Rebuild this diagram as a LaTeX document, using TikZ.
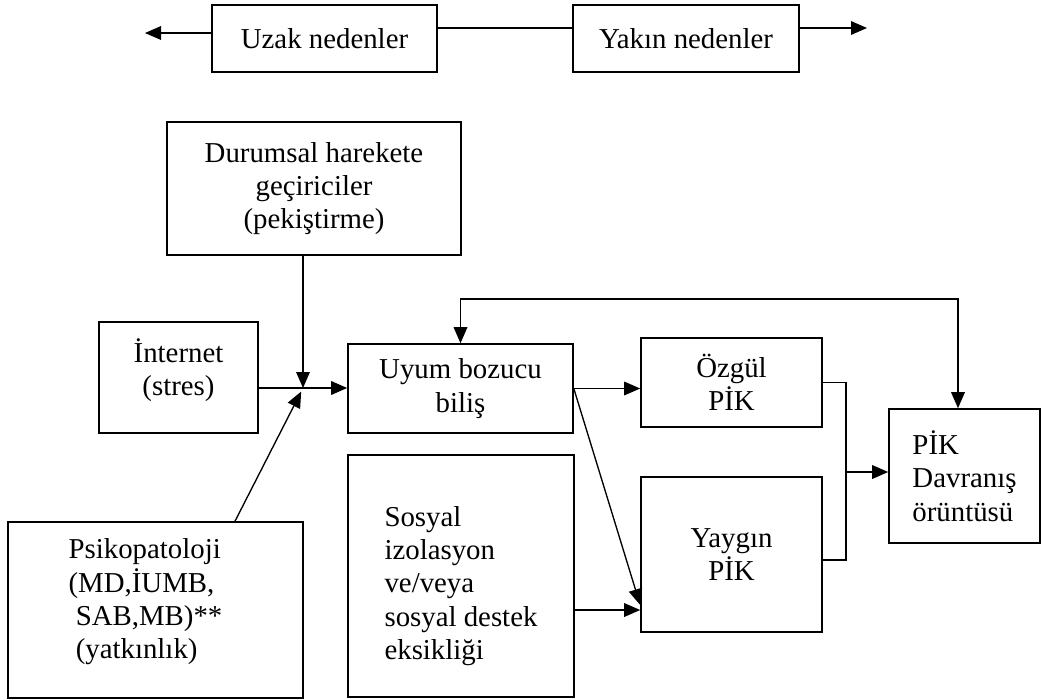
\documentclass[tikz,border=0pt]{standalone}
\usepackage{fontspec}
\setmainfont{Liberation Serif}
\usetikzlibrary{arrows.meta}

\tikzset{
  box/.style={draw, line width=1.1pt, inner sep=0pt, align=center, font=\fontsize{20.5}{23.7}\selectfont},
  txt/.style={inner sep=0pt, align=left, font=\fontsize{20.5}{23.7}\selectfont},
  lin/.style={line width=0.95pt},
  >={Triangle[length=0.4cm,width=0.34cm]}
}

\begin{document}
\begin{tikzpicture}[x=0.025cm, y=-0.025cm]
    \useasboundingbox (0,0) rectangle (1041,699);
    % top row
    \node[box, minimum width=5.625cm, minimum height=1.675cm] (uzak) at (324.5,38.5) {Uzak nedenler};
    \node[box, minimum width=5.65cm, minimum height=1.675cm] (yakin) at (686,38.5) {Yakın nedenler};
    \coordinate (farl) at (145,33);
    \coordinate (farr) at (867,28);
    \draw[lin, ->] (uzak.west |- farl) -- (farl);
    \draw[lin] (uzak.east |- farr) -- (yakin.west |- farr);
    \draw[lin, ->] (yakin.east |- farr) -- (farr);
    % model
    \node[box, minimum width=7.35cm, minimum height=3.325cm] (durumsal) at (314,188.5) {Durumsal harekete\\geçiriciler\\(pekiştirme)};
    \node[box, minimum width=3.975cm, minimum height=2.775cm,
      label={[txt, align=center, yshift=0.19cm]center:{İnternet\\(stres)}}] (internet) at (178.5,377.5) {};
    \node[box, minimum width=7.375cm, minimum height=4.4cm,
      label={[txt, xshift=-0.25cm, yshift=0.2cm]center:{Psikopatoloji\\(MD,İUMB,\\~SAB,MB)**\\~(yatkınlık)}}] (psiko) at (155.5,610) {};
    \node[box, minimum width=5.625cm, minimum height=2.225cm] (uyum) at (460.5,388.5) {Uyum bozucu\\biliş};
    \node[box, minimum width=5.65cm, minimum height=6.05cm,
      label={[txt, yshift=-0.25cm]center:{Sosyal\\izolasyon\\ve/veya\\sosyal destek\\eksikliği}}] (sosyal) at (461,576) {};
    \node[box, minimum width=4.525cm, minimum height=2.225cm] (ozgul) at (731.5,382.5) {Özgül\\PİK};
    \node[box, minimum width=4.525cm, minimum height=3.875cm] (yaygin) at (731.5,554.5) {Yaygın\\PİK};
    \node[box, align=left, minimum width=3.775cm, minimum height=3.35cm] (pik) at (964.5,476) {PİK\\Davranış\\örüntüsü};
    % connectors
    \coordinate (join) at (303,388);
    \coordinate (pstop) at (235,0);
    \coordinate (fbr) at (958,299);
    \coordinate (ydiag) at (641,605);
    \coordinate (ysos) at (0,610);
    \coordinate (bus) at (846,472);
    \coordinate (ybus) at (0,560);
    \draw[lin, ->] (durumsal.south -| join) -- (join);
    \draw[lin, ->] (internet.east |- join) -- (uyum.west |- join);
    \draw[lin, ->, shorten >=0.1cm] (psiko.north -| pstop) -- (join);
    \draw[lin, <->] (uyum.north) |- (fbr) -- (pik.north -| fbr);
    \draw[lin, ->] (uyum.east) -- (ozgul.west |- uyum.east);
    \draw[lin, ->] (uyum.east) -- (yaygin.west |- ydiag);
    \draw[lin, ->] (sosyal.east |- ysos) -- (yaygin.west |- ysos);
    \draw[lin] (ozgul.east) -| (bus) |- (yaygin.east |- ybus);
    \draw[lin, ->] (bus) -- (pik.west |- bus);
\end{tikzpicture}
\end{document}
